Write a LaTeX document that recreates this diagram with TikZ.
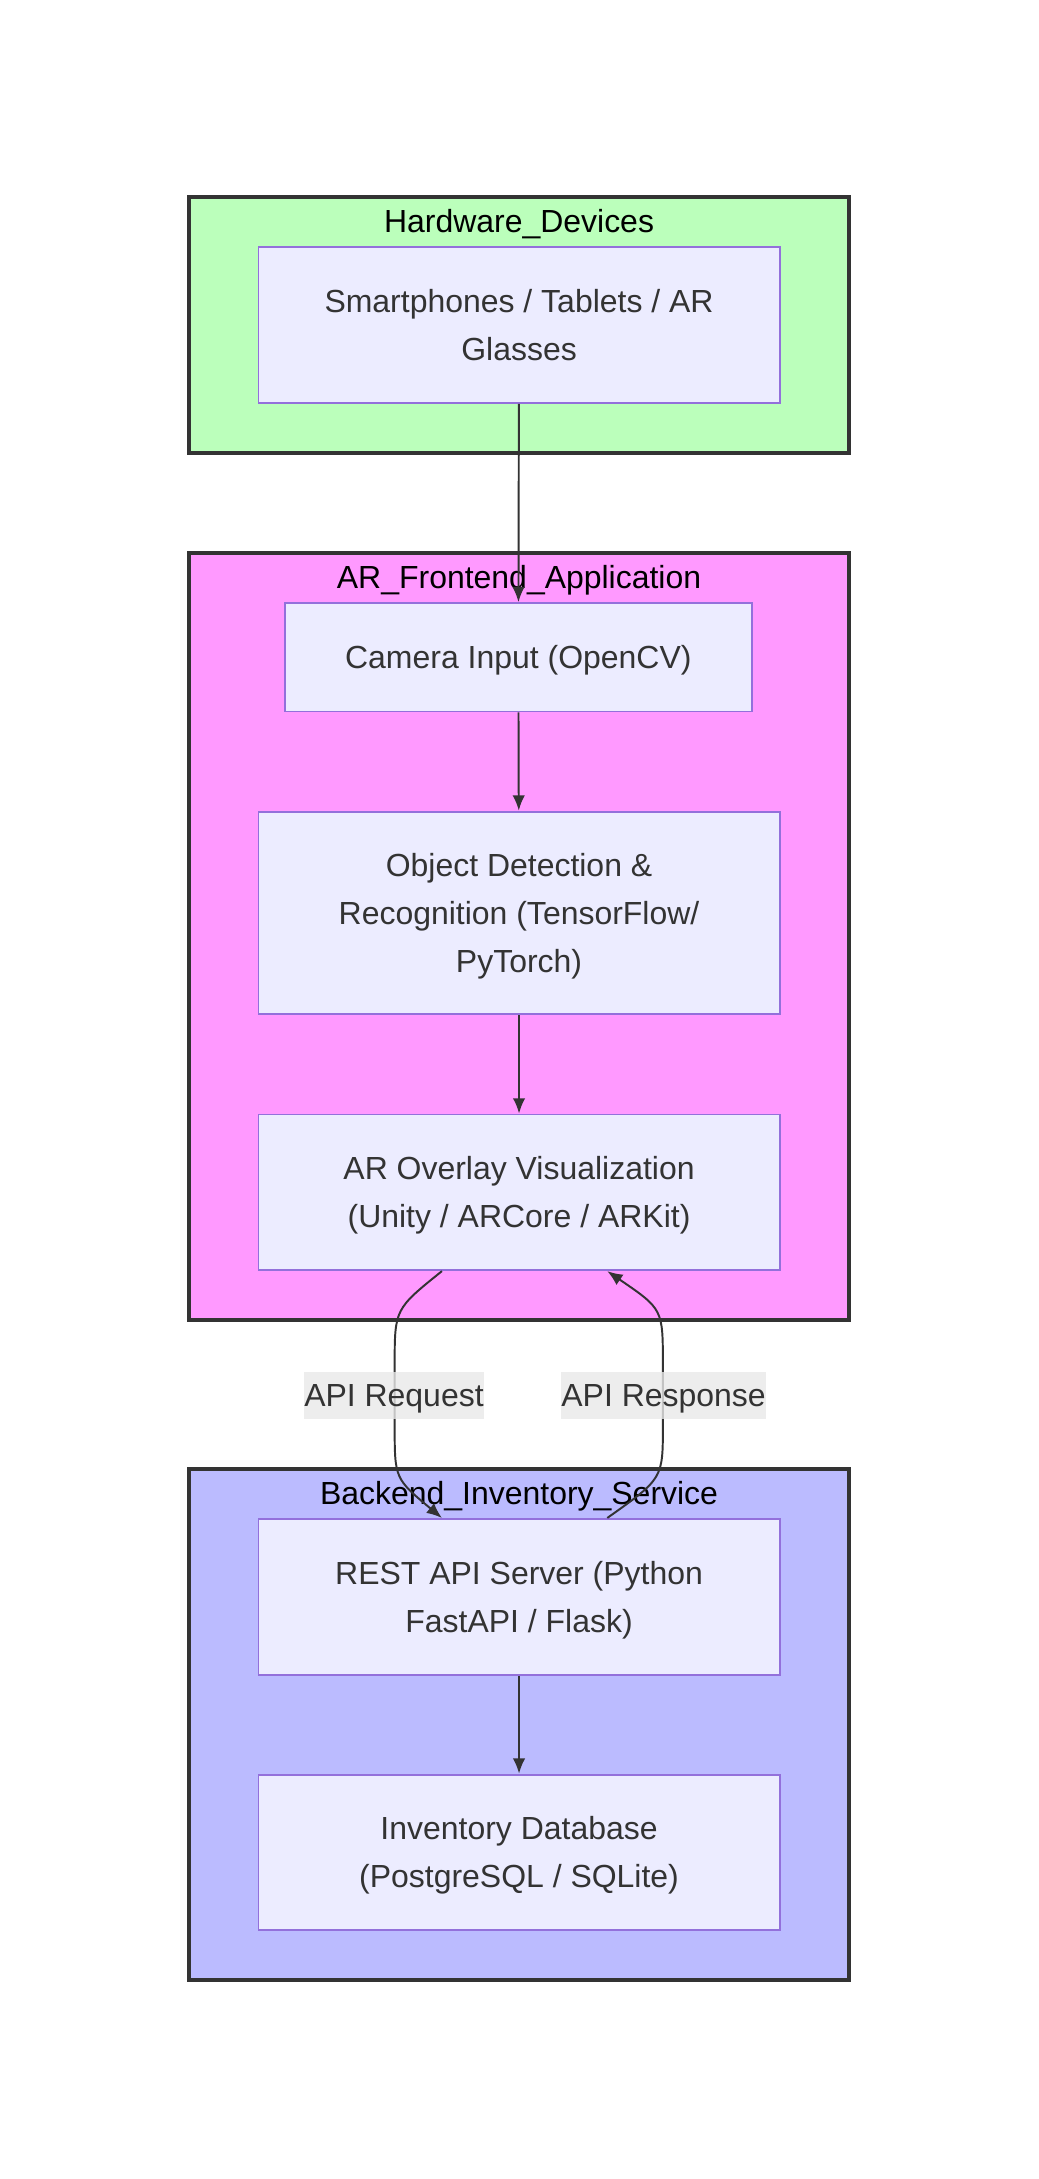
\documentclass[tikz,border=0pt]{standalone}
\usepackage{fontspec}
\setmainfont{Liberation Sans}
\usetikzlibrary{arrows.meta}
\definecolor{nodefill}{HTML}{ECECFF}
\definecolor{nodeline}{HTML}{9370DB}
\definecolor{textgray}{HTML}{333333}
\definecolor{hwfill}{HTML}{BBFFBB}
\definecolor{appfill}{HTML}{FF99FF}
\definecolor{backfill}{HTML}{BBBBFF}
\definecolor{labelfill}{HTML}{E8E8E8}

\begin{document}
\begin{tikzpicture}[x=1pt,y=1pt,
    cluster/.style={draw=textgray,line width=2.8pt,minimum width=475pt,inner sep=0pt},
    box/.style={draw=nodeline,fill=nodefill,line width=1.4pt,minimum width=375pt,minimum height=112pt,inner sep=0pt,align=center,text=textgray,text depth=0pt,font=\fontsize{23}{34.5}\selectfont},
    oneline/.style={text height=16.4pt},
    twoline/.style={text height=50.9pt},
    threeline/.style={text height=85.4pt},
    title/.style={anchor=base,text=black,inner sep=0pt,font=\fontsize{23}{28}\selectfont},
    elabel/.style={fill=labelfill,fill opacity=0.8,text opacity=1,text=textgray,inner sep=0pt,minimum height=34pt,text height=16.4pt,text depth=0pt,font=\fontsize{23}{28}\selectfont},
    flow/.style={draw=textgray,line width=1.4pt,-{Latex[length=11pt,width=9pt]}}]
            \useasboundingbox (0,0) rectangle (747,-1568);

            % clusters
            \node (hw) at (373.5,-234) [cluster,fill=hwfill,minimum height=184pt] {};
            \node [title] at ([yshift=-27pt]hw.north) {Hardware\_Devices};
            \node (app) at (373.5,-674) [cluster,fill=appfill,minimum height=552pt] {};
            \node [title] at ([yshift=-27pt]app.north) {AR\_Frontend\_Application};
            \node (back) at (373.5,-1241) [cluster,fill=backfill,minimum height=368pt] {};
            \node [title] at ([yshift=-27pt]back.north) {Backend\_Inventory\_Service};

            % components
            \node (dev) at (373.5,-234) [box,twoline] {Smartphones / Tablets / AR\\Glasses};
            \node (cam) at (373,-473) [box,oneline,minimum width=336pt,minimum height=78pt] {Camera Input (OpenCV)};
            \node (det) at (373.5,-657) [box,threeline,minimum height=146pt] {Object Detection \&\\Recognition (TensorFlow/\\PyTorch)};
            \node (ovl) at (373.5,-858) [box,twoline] {AR Overlay Visualization\\(Unity / ARCore / ARKit)};
            \node (api) at (373.5,-1149) [box,twoline] {REST API Server (Python\\FastAPI / Flask)};
            \node (db) at (373.5,-1333) [box,twoline] {Inventory Database\\(PostgreSQL / SQLite)};

            \draw [flow] (dev) -- (cam);
            \draw [flow] (cam) -- (det);
            \draw [flow] (det) -- (ovl);
            \draw [flow] (api) -- (db);

            % request / response
            \draw [flow] ([xshift=-55.5pt]ovl.south) .. controls (284,-942) .. (284,-982) -- (284,-1026) .. controls (284,-1064) .. ([xshift=-55.5pt]api.north);
            \draw [flow] ([xshift=63.5pt]api.north) .. controls (477,-1064) .. (477,-1026) -- (477,-982) .. controls (477,-942) .. ([xshift=63.5pt]ovl.south);
            \node (req) at (283.5,-1004) [elabel] {API Request};
            \node (res) at (477.5,-1004) [elabel] {API Response};

        \end{tikzpicture}
\end{document}
